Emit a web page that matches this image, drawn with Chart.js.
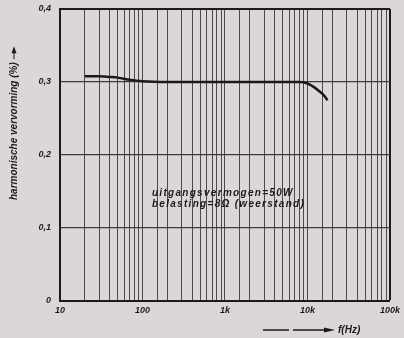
<!DOCTYPE html>
<html>
<head>
<meta charset="utf-8">
<script src="https://cdn.jsdelivr.net/npm/chart.js@4.4.0/dist/chart.umd.min.js"></script>
<style>
  html, body { margin: 0; padding: 0; background: #dcd6da; }
  #wrap { width: 404px; height: 338px; }
</style>
</head>
<body>
<div id="wrap"><canvas id="thd"></canvas></div>
<script>
// distortion vs frequency, 50 W into 8 ohm
var freqHz = [20, 30, 40, 50, 70, 100, 200, 500, 1000, 2000, 5000, 8000, 10000, 12000, 14000, 16000, 17500];
var thdPct = [0.308, 0.308, 0.307, 0.306, 0.303, 0.301, 0.300, 0.300, 0.300, 0.300, 0.300, 0.300, 0.298, 0.293, 0.287, 0.281, 0.275];
var xTickLabels = { 10: "10", 100: "100", 1000: "1k", 10000: "10k", 100000: "100k" };
var yTickValues = [0, 0.1, 0.2, 0.3, 0.4];

var ink = "#1a1a1a";
var font = "'Liberation Sans', Arial, sans-serif";

var points = freqHz.map(function (f, i) { return { x: f, y: thdPct[i] }; });

// text on the plot: note, axis titles with arrows
var labelsPlugin = {
  id: "labels",
  afterDraw: function (chart) {
    var ctx = chart.ctx;
    var xs = chart.scales.x, ys = chart.scales.y;
    ctx.save();
    ctx.fillStyle = ink;
    ctx.strokeStyle = ink;
    ctx.font = "italic bold 10px " + font;
    ctx.textBaseline = "middle";
    ctx.letterSpacing = "1.3px";
    var nx = xs.getPixelForValue(130);
    ctx.fillText("uitgangsvermogen=50W", nx, ys.getPixelForValue(0.148));
    ctx.fillText("belasting=8\u03A9 (weerstand)", nx, ys.getPixelForValue(0.132));
    ctx.letterSpacing = "0px";

    // x title with arrow
    var ty = 330;
    ctx.lineWidth = 1.5;
    ctx.beginPath();
    ctx.moveTo(263, ty); ctx.lineTo(289, ty);
    ctx.moveTo(293, ty); ctx.lineTo(326, ty);
    ctx.stroke();
    ctx.beginPath();
    ctx.moveTo(335, ty); ctx.lineTo(324, ty - 2.5); ctx.lineTo(324, ty + 2.5);
    ctx.closePath(); ctx.fill();
    ctx.fillText("f(Hz)", 338, ty);

    // y title, rotated, with arrow
    ctx.translate(14, 200);
    ctx.rotate(-Math.PI / 2);
    ctx.font = "italic bold 10px " + font;
    ctx.fillText("harmonische vervorming (%)", 0, 0);
    var w = ctx.measureText("harmonische vervorming (%)").width;
    ctx.lineWidth = 1;
    ctx.beginPath();
    ctx.moveTo(w + 3, 0); ctx.lineTo(w + 10, 0);
    ctx.stroke();
    ctx.beginPath();
    ctx.moveTo(w + 16, 0); ctx.lineTo(w + 9, -2.5); ctx.lineTo(w + 9, 2.5);
    ctx.closePath(); ctx.fill();
    ctx.restore();
  }
};

new Chart(document.getElementById("thd"), {
  type: "line",
  data: {
    datasets: [{
      data: points,
      borderColor: ink,
      borderWidth: 2.5,
      pointRadius: 0,
      cubicInterpolationMode: "monotone",
      fill: false
    }]
  },
  options: {
    responsive: true,
    maintainAspectRatio: false,
    animation: false,
    layout: { padding: { left: 0, top: 9, right: 14, bottom: 21 } },
    plugins: { legend: { display: false }, tooltip: { enabled: false } },
    scales: {
      x: {
        type: "logarithmic",
        min: 10,
        max: 100000,
        afterFit: function (s) { s.height = 16; },
        border: { color: ink, width: 2 },
        grid: {
          drawTicks: false,
          color: function (c) { return c.tick && c.tick.value === 100000 ? ink : "#4a4a4a"; },
          lineWidth: function (c) { return c.tick && c.tick.value === 100000 ? 2 : 1; }
        },
        ticks: {
          autoSkip: false,
          maxRotation: 0,
          padding: 4,
          color: ink,
          font: { family: font, size: 9, style: "italic", weight: "bold" },
          callback: function (v) { return xTickLabels[v] || ""; }
        }
      },
      y: {
        min: 0,
        max: 0.4,
        afterFit: function (s) { s.width = 60; s.paddingTop = 0; s.paddingBottom = 0; },
        afterBuildTicks: function (s) { s.ticks = yTickValues.map(function (v) { return { value: v }; }); },
        border: { color: ink, width: 2 },
        grid: {
          drawTicks: false,
          color: function (c) { return c.tick && c.tick.value === 0.4 ? ink : "#3a3a3a"; },
          lineWidth: function (c) { return c.tick && c.tick.value === 0.4 ? 2 : 1.2; }
        },
        ticks: {
          padding: 9,
          color: ink,
          font: { family: font, size: 9, style: "italic", weight: "bold" },
          callback: function (v) { return v === 0 ? "0" : v.toFixed(1).replace(".", ","); }
        }
      }
    }
  },
  plugins: [labelsPlugin]
});
</script>
</body>
</html>
